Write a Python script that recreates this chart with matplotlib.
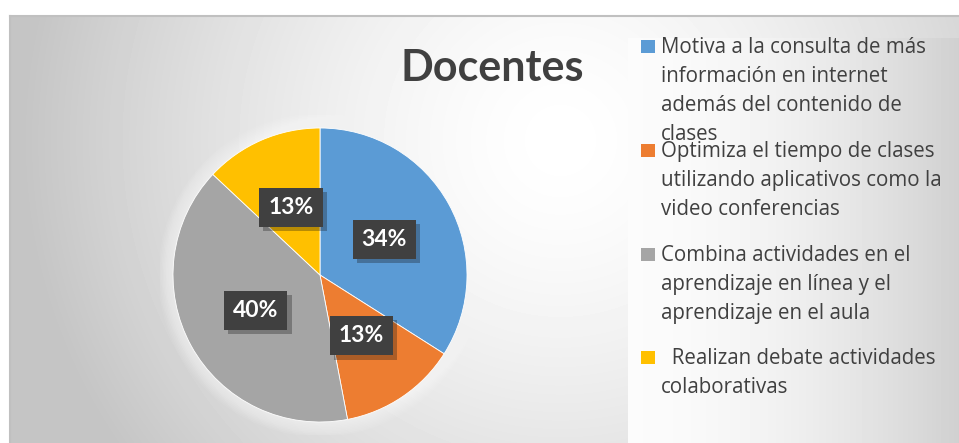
import numpy as np
import matplotlib
matplotlib.use("Agg")
import matplotlib.pyplot as plt
from matplotlib.patches import Rectangle
import matplotlib.patheffects as pe

plt.rcParams['font.family'] = ['Lato', 'DejaVu Sans']

# data
categories = [
    "Motiva a la consulta de más\ninformación en internet\nademás del contenido de\nclases",
    "Optimiza el tiempo de clases\nutilizando aplicativos como la\nvideo conferencias",
    "Combina actividades en el\naprendizaje en línea y el\naprendizaje en el aula",
    "  Realizan debate actividades\ncolaborativas",
]
values = [34, 13, 40, 13]
colors = ["#5B9BD5", "#ED7D31", "#A5A5A5", "#FFC000"]
title = "Docentes"

W, H = 959, 443
fig = plt.figure(figsize=(W / 100, H / 100), dpi=100)

# background: radial gradient for the chart area
bg = fig.add_axes([10 / W, 0, (W - 10) / W, (H - 16) / H])
xs = np.arange(10, W)
ys = np.arange(16, H)
X, Y = np.meshgrid(xs, ys)
d = np.sqrt((X - 560.0) ** 2 + (Y - 140.0) ** 2)
v = 1 - 0.23 * np.clip(d / 540.0, 0, 1) ** 1.5
# legend panel, horizontal gradient
inbox = (X >= 628) & (Y >= 38)
lv = 0.985 - 0.17 * np.clip((X - 628) / 331.0, 0, 1) ** 1.8
v = np.where(inbox, lv, v)
bg.imshow(v, cmap='gray', vmin=0, vmax=1, aspect='auto', interpolation='bilinear')
bg.set_axis_off()
fig.add_artist(plt.Line2D([10 / W, 1], [1 - 16 / H, 1 - 16 / H], color="#c0c0c0", lw=1.5))
fig.add_artist(plt.Line2D([10 / W, 10 / W], [0, 1 - 16 / H], color="#c0c0c0", lw=1.5))

# pie
cx, cy, R = 320, 275, 147
box = 160
ax = fig.add_axes([(cx - box) / W, (H - cy - box) / H, 2 * box / W, 2 * box / H])

# soft white glow around the pie
for k in range(10):
    ax.add_patch(plt.Circle((0, 0), 1.0 + 0.01 * (k + 1), color="white", alpha=0.07, lw=0, zorder=0))

wedges, texts, autotexts = ax.pie(values, colors=colors, startangle=90, counterclock=False,
                                  autopct='%1.0f%%', pctdistance=0.5, radius=1.0,
                                  wedgeprops=dict(linewidth=0.6, edgecolor='white'))
ax.set_xlim(-box / R, box / R)
ax.set_ylim(-box / R, box / R)
ax.set_axis_off()

for t in autotexts:
    t.set_fontsize(16.5)
    t.set_fontweight('bold')
    t.set_color('white')
    t.set_zorder(4)
    t.set_bbox(dict(boxstyle='square,pad=0.4', facecolor='#404040', lw=0))
    t.get_bbox_patch().set_path_effects([pe.SimplePatchShadow(offset=(3, -3), alpha=0.3), pe.Normal()])

# title
fig.text(492 / W, 1 - 68 / H, title, ha='center', va='center', fontsize=31,
         fontweight='bold', color='#404040')

# legend (manual layout)
first_base = [53, 157, 261, 364]
step = 29
for lab, col, b in zip(categories, colors, first_base):
    fig.add_artist(Rectangle((641 / W, 1 - b / H), 14 / W, 13 / H, facecolor=col,
                             edgecolor='none', transform=fig.transFigure))
    for i, line in enumerate(lab.split("\n")):
        fig.text(661 / W, 1 - (b + i * step) / H, line, ha='left', va='baseline',
                 fontsize=14.8, color='#404040', family=['Open Sans', 'DejaVu Sans'])

fig.savefig("out.png", dpi=100)
